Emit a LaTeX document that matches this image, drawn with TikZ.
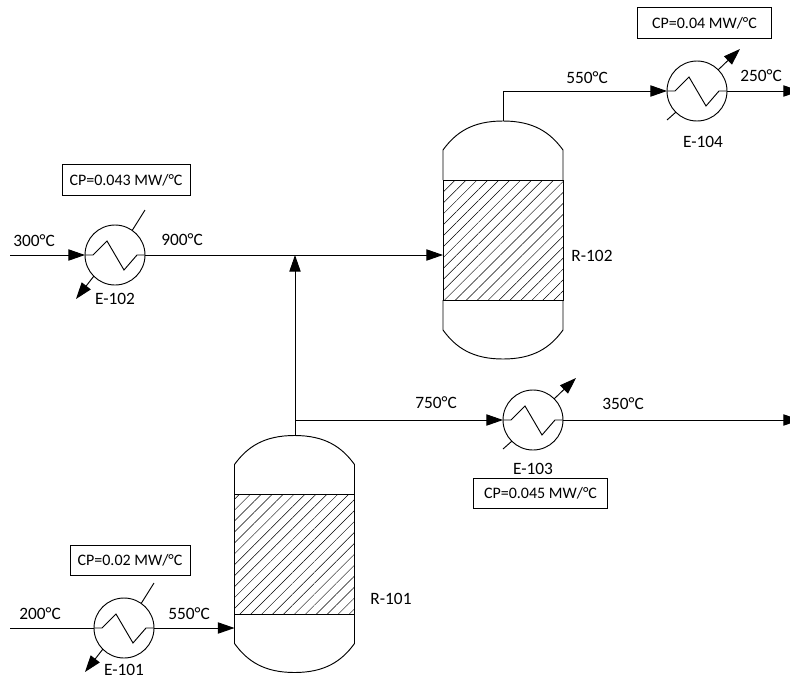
\documentclass[tikz,border=0pt]{standalone}
\usepackage{fontspec}
\setmainfont{Carlito}
\usepackage{tikz}
\usetikzlibrary{arrows.meta,calc,patterns.meta}

\begin{document}
\begin{tikzpicture}[
    x=0.75pt, y=-0.75pt,
    font=\fontsize{13}{15}\selectfont,
    line width=0.7pt,
    hx/.style={draw, circle, minimum size=45pt, inner sep=0pt, outer sep=0pt},
    bed/.style={draw, minimum width=90pt, minimum height=90pt, inner sep=0pt, outer sep=0pt,
        pattern={Lines[angle=45,distance=5.8pt,line width=0.35pt]}},
    duty/.style={draw, font=\fontsize{12}{14}\selectfont, minimum height=23pt, inner sep=0pt, outer sep=0pt},
    label/.style={inner sep=0pt},
    arrow/.style={-{Triangle[length=12.5pt,width=8.5pt]}},
    dome/.style={insert path={.. controls +(13,-18) and +(-30,0) .. ++(60,-29)
        .. controls +(30,0) and +(-13,-18) .. ++(60,29)}},
    sump/.style={insert path={.. controls +(-13,18) and +(30,0) .. ++(-60,29)
        .. controls +(-30,0) and +(13,18) .. ++(-60,-29)}}
]
\clip (0,0) rectangle (790,679);

% reactors
\node[bed] (bed101) at (294.5,554.5) {};
\node[bed] (bed102) at (503,240) {};
\draw (bed101.north west) -- ++(0,-30) [dome] -- (bed101.north east);
\draw (bed101.south east) -- ++(0,29) [sump] -- (bed101.south west);
\draw (bed102.north west) -- ++(0,-30) [dome] -- (bed102.north east);
\draw (bed102.south east) -- ++(0,30) [sump] -- (bed102.south west);
\coordinate (top101) at (295,435);
\coordinate (top102) at (503,121);
\coordinate (side102) at (bed102.west |- 255,255);
\coordinate (side101) at (bed101.west |- 234,628);

% exchangers
\node[hx] (e101) at (124,628) {};
\node[hx] (e102) at (115,255) {};
\node[hx] (e103) at (533,420) {};
\node[hx] (e104) at (697,91) {};
\foreach \hxname in {e101,e102,e103,e104}
    \draw (\hxname.west) -- ++(8,0) -- ($(\hxname)+(-8,-14)$) -- ($(\hxname)+(9,15)$)
        -- ($(\hxname)+(22,0)$) -- (\hxname.east);

% utility stubs
\coordinate (cw101) at ($(e101)+(30,-45)$);
\coordinate (hw101) at ($(e101)+(-39,44)$);
\coordinate (cw102) at ($(e102)+(30,-45)$);
\coordinate (hw102) at ($(e102)+(-39,44)$);
\coordinate (cw103) at ($(e103)+(-30,29)$);
\coordinate (hw103) at ($(e103)+(43,-42)$);
\coordinate (cw104) at ($(e104)+(-30,29)$);
\coordinate (hw104) at ($(e104)+(43,-42)$);
\draw (e101.55) -- (cw101);
\draw[arrow] (e101.225) -- (hw101);
\draw (e102.55) -- (cw102);
\draw[arrow] (e102.225) -- (hw102);
\draw (e103.225) -- (cw103);
\draw[arrow] (e103.45) -- (hw103);
\draw (e104.225) -- (cw104);
\draw[arrow] (e104.45) -- (hw104);

% streams
\coordinate (in101) at (10,628);
\coordinate (in102) at (10,255);
\coordinate (out103) at (800,420);
\coordinate (out104) at (800,91);
\coordinate (tee) at (295,420);
\coordinate (mix) at (295,255);
\draw (in101) -- (e101);
\draw[arrow] (e101.east) -- (side101);
\draw[arrow] (in102) -- (e102.west);
\draw[arrow] (e102.east) -- (side102);
\draw[arrow] (top101) -- (mix);
\draw[arrow] (tee) -- (e103.west);
\draw[arrow] (e103.east) -- (out103);
\draw[arrow] (top102) |- (e104.west);
\draw[arrow] (e104.east) -- (out104);

% duty boxes
\node[duty, minimum width=90pt] (cp101) at (130,560.5) {CP=0.02 MW/°C};
\node[duty, minimum width=96pt] (cp102) at (126,180) {CP=0.043 MW/°C};
\node[duty, minimum width=101pt] (cp103) at (540.5,493.5) {CP=0.045 MW/°C};
\node[duty, minimum width=101pt] (cp104) at (704.5,23) {CP=0.04 MW/°C};

% tags
\node[label] (tag101) at (124,670) {E-101};
\node[label] (tag102) at (115,299) {E-102};
\node[label] (tag103) at (533,469) {E-103};
\node[label] (tag104) at (703,142) {E-104};
\node[label] (tagr101) at (391,599) {R-101};
\node[label] (tagr102) at (592,256) {R-102};

% temperatures
\node[label] (t200) at (40,614) {200°C};
\node[label] (t550a) at (189,614) {550°C};
\node[label] (t300) at (34,241) {300°C};
\node[label] (t900) at (182,240) {900°C};
\node[label] (t750) at (436,403) {750°C};
\node[label] (t350) at (623,404) {350°C};
\node[label] (t550b) at (587,78) {550°C};
\node[label] (t250) at (761,76) {250°C};
\end{tikzpicture}
\end{document}
